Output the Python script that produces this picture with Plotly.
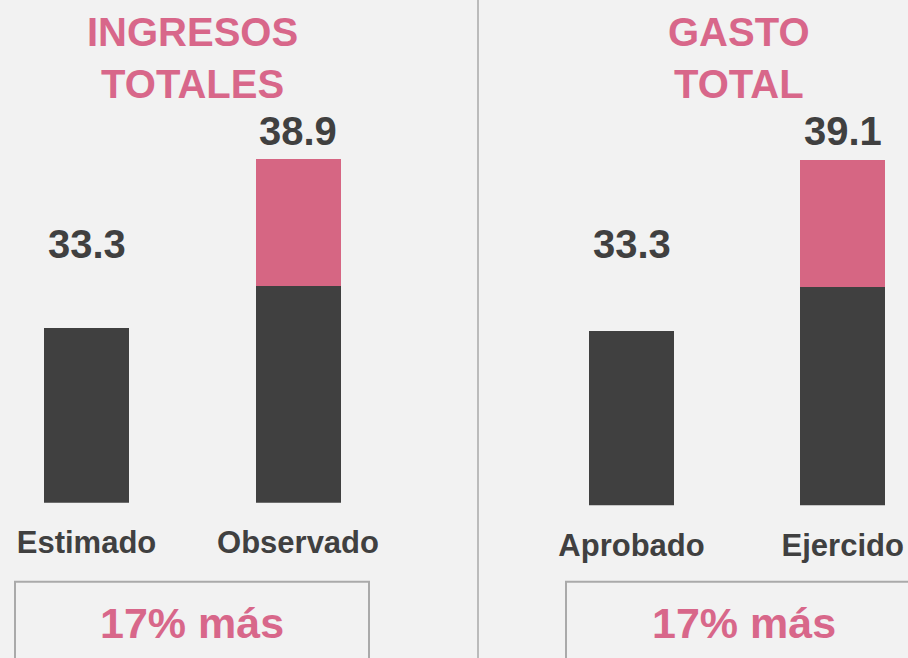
import plotly.graph_objects as go

# ---------------- data ----------------
titles = ["INGRESOS<br>TOTALES", "GASTO<br>TOTAL"]
cats_left = ["Estimado", "Observado"]
cats_right = ["Aprobado", "Ejercido"]
totals_left = [33.3, 38.9]
totals_right = [33.3, 39.1]
base_left = [33.3, 34.7]      # dark segment (as drawn)
base_right = [33.3, 34.8]
diff_labels = ["17% más", "17% más"]

# ---------------- style ----------------
W, H = 908, 658
BG = "#f2f2f2"
DARK = "#404040"
PINK = "#d66683"
TITLE_PINK = "#d8678a"
FONT = "Liberation Sans"


def fx(p):
    return p / W


def fy(p):
    return 1 - p / H


fig = go.Figure()

panels = [
    dict(cats=cats_left, tot=totals_left, base=base_left, xa="x", ya="y",
         centers=(86.5, 298.0), dom=(0, 478), bottom=502.7, ppu=30.23, y0=27.53,
         shifts=(84, 28)),
    dict(cats=cats_right, tot=totals_right, base=base_right, xa="x2", ya="y2",
         centers=(631.5, 842.7), dom=(478, 908), bottom=505.3, ppu=29.43, y0=27.37,
         shifts=(86.7, 29)),
]

annotations = []
layout_axes = {}
for i, p in enumerate(panels):
    pink = [t - b for t, b in zip(p["tot"], p["base"])]
    step = p["centers"][1] - p["centers"][0]
    bw = 85 / step
    fig.add_trace(go.Bar(x=p["cats"], y=p["base"], xaxis=p["xa"], yaxis=p["ya"],
                         marker=dict(color=DARK, line=dict(width=0)), width=bw,
                         showlegend=False, hoverinfo="skip"))
    fig.add_trace(go.Bar(x=p["cats"], y=pink, xaxis=p["xa"], yaxis=p["ya"],
                         marker=dict(color=PINK, line=dict(width=0)), width=bw,
                         showlegend=False, hoverinfo="skip"))
    r0 = (p["dom"][0] - p["centers"][0]) / step
    r1 = r0 + (p["dom"][1] - p["dom"][0]) / step
    y1 = p["y0"] + p["bottom"] / p["ppu"]
    xname = "xaxis" if i == 0 else "xaxis2"
    yname = "yaxis" if i == 0 else "yaxis2"
    layout_axes[xname] = dict(domain=[fx(p["dom"][0]), fx(p["dom"][1])], range=[r0, r1],
                              type="category", showgrid=False, zeroline=False, showline=False,
                              ticks="outside", ticklen=12, tickcolor="rgba(0,0,0,0)",
                              tickfont=dict(family=FONT, size=31, color=DARK, weight="bold"),
                              anchor=("y" if i == 0 else "y2"), fixedrange=True)
    layout_axes[yname] = dict(domain=[fy(p["bottom"]), 1], range=[p["y0"], y1], visible=False,
                              anchor=("x" if i == 0 else "x2"), fixedrange=True)
    for c, t, s in zip(p["cats"], p["tot"], p["shifts"]):
        annotations.append(dict(x=c, y=t, xref=p["xa"], yref=p["ya"], text=f"{t:.1f}",
                                showarrow=False, yanchor="middle", yshift=s,
                                font=dict(family=FONT, size=40, color=DARK, weight="bold")))

# titles
for xc, t in zip((192, 739), titles):
    annotations.append(dict(x=fx(xc), y=fy(58), xref="paper", yref="paper", text=t,
                            showarrow=False, xanchor="center", yanchor="middle",
                            font=dict(family=FONT, size=40, color=TITLE_PINK, weight="bold")))
# difference labels
for xc, t in zip((192, 744), diff_labels):
    annotations.append(dict(x=fx(xc), y=fy(623), xref="paper", yref="paper", text=t,
                            showarrow=False, xanchor="center", yanchor="middle",
                            font=dict(family=FONT, size=43, color=TITLE_PINK, weight="bold")))

shapes = [
    dict(type="line", xref="paper", yref="paper", x0=fx(478), x1=fx(478), y0=0, y1=1,
         line=dict(color="#bbbbbb", width=2)),
    dict(type="rect", xref="paper", yref="paper", x0=fx(15), x1=fx(369), y0=fy(700), y1=fy(581.7),
         line=dict(color="#aaaaaa", width=2), fillcolor="rgba(0,0,0,0)"),
    dict(type="rect", xref="paper", yref="paper", x0=fx(566), x1=fx(920), y0=fy(700), y1=fy(581.7),
         line=dict(color="#aaaaaa", width=2), fillcolor="rgba(0,0,0,0)"),
]

fig.update_layout(width=W, height=H, margin=dict(l=0, r=0, t=0, b=0),
                  paper_bgcolor=BG, plot_bgcolor=BG, barmode="stack", bargap=0,
                  annotations=annotations, shapes=shapes, **layout_axes)

fig.write_html("out.html", config={"displayModeBar": False},
               post_script="document.body.style.margin='0';document.body.style.overflow='hidden';")
